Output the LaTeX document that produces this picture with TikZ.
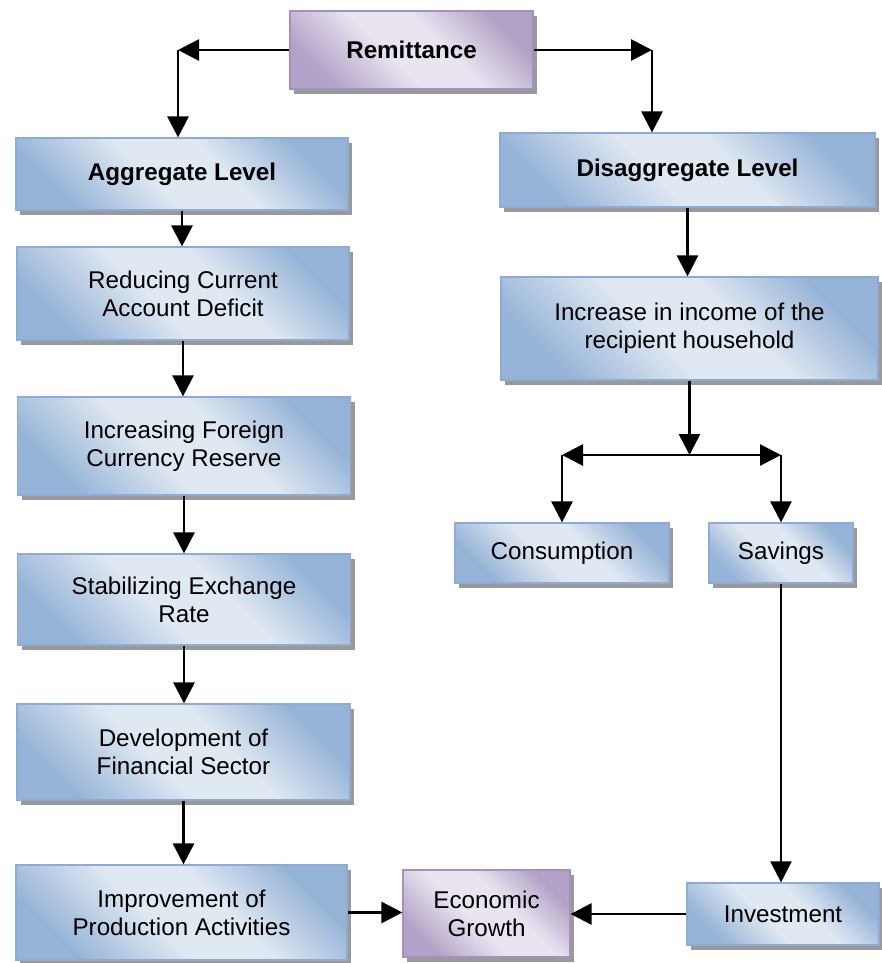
\documentclass[tikz,border=0pt]{standalone}
\usepackage{fontspec}
\setmainfont{Liberation Sans}
\usetikzlibrary{arrows.meta,shadows}
\definecolor{bdark}{HTML}{95B3D7}
\definecolor{blight}{HTML}{E0E8F2}
\definecolor{bline}{HTML}{8EAAD6}
\definecolor{pdark}{HTML}{B3A2C7}
\definecolor{plight}{HTML}{E9E4F0}
\definecolor{pline}{HTML}{A591BF}
\pgfdeclarehorizontalshading{blueglow}{100bp}{color(0bp)=(bdark); color(25bp)=(bdark); color(44bp)=(blight); color(58bp)=(blight); color(75bp)=(bdark); color(100bp)=(bdark)}
\pgfdeclarehorizontalshading{purpleglow}{100bp}{color(0bp)=(pdark); color(25bp)=(pdark); color(44bp)=(plight); color(58bp)=(plight); color(75bp)=(pdark); color(100bp)=(pdark)}
\tikzset{
  bbox/.style={draw=bline, line width=0.6pt, shade, shading=blueglow, shading angle=45,
    general shadow={fill=black!40, draw=none, shadow xshift=2pt, shadow yshift=-2.5pt},
    align=center, font=\fontsize{12.1}{14}\selectfont, inner sep=0pt, text=black},
  pbox/.style={bbox, draw=pline, shading=purpleglow},
  sz/.style 2 args={minimum width=#1*0.5pt, minimum height=#2*0.5pt},
  arr/.style={line width=1.4pt, -{Triangle[length=10.5pt,width=10.5pt]}},
  ln/.style={line width=1.4pt}
}
\begin{document}
\begin{tikzpicture}[x=0.5pt,y=-0.5pt]
\useasboundingbox (0,0) rectangle (882,963);
% nodes
\node[pbox, sz={243}{78}] (rem) at (411.5,50) {\textbf{Remittance}};
\node[bbox, sz={332}{72}] (agg) at (182,174) {\textbf{Aggregate Level}};
\node[bbox, sz={332}{93}] (red) at (183,293.5) {Reducing Current\\Account Deficit};
\node[bbox, sz={333}{98}] (ifc) at (184,446) {Increasing Foreign\\Currency Reserve};
\node[bbox, sz={333}{91}] (ser) at (184,599.5) {Stabilizing Exchange\\Rate};
\node[bbox, sz={333}{96}] (dfs) at (183.5,752) {Development of\\Financial Sector};
\node[bbox, sz={331}{95}] (imp) at (181.5,912.5) {Improvement of\\Production Activities};
\node[bbox, sz={375}{74}] (dis) at (687.5,170) {\textbf{Disaggregate Level}};
\node[bbox, sz={377}{103}] (inc) at (689.5,328.5) {Increase in income of the\\recipient household};
\node[bbox, sz={214}{60}] (con) at (562,553) {Consumption};
\node[bbox, sz={144}{60}] (sav) at (781,553) {Savings};
\node[bbox, sz={192}{62}] (inv) at (783,914) {Investment};
\node[pbox, sz={167}{87}] (eg) at (486.5,913.5) {Economic\\Growth};
% helper coordinates
\coordinate (xL) at (178,0);
\coordinate (xR) at (652,0);
\coordinate (cL) at (rem.west -| xL);
\coordinate (cR) at (rem.east -| xR);
\coordinate (yB) at (0,455);
\coordinate (jn) at (inc.south |- yB);
\coordinate (bL) at (con.north |- yB);
\coordinate (bR) at (sav.north |- yB);
% connectors
\draw[arr] (rem.west) -- (cL);
\draw[arr] (cL) -- (cL |- agg.north);
\draw[arr] (rem.east) -- (cR);
\draw[arr] (cR) -- (cR |- dis.north);
\draw[arr] (agg.south) -- (agg.south |- red.north);
\draw[arr] (red.south) -- (red.south |- ifc.north);
\draw[arr] (ifc.south) -- (ifc.south |- ser.north);
\draw[arr] (ser.south) -- (ser.south |- dfs.north);
\draw[arr] (dfs.south) -- (dfs.south |- imp.north);
\draw[arr] (dis.south) -- (dis.south |- inc.north);
\draw[arr] (inc.south) -- (jn);
\draw[arr] (jn) -- (bL);
\draw[arr] (jn) -- (bR);
\draw[arr] (bL) -- (con.north);
\draw[arr] (bR) -- (sav.north);
\draw[arr, line width=1.1pt] (sav.south) -- (sav.south |- inv.north);
\draw[arr] (inv.west) -- (inv.west -| eg.east);
\draw[arr] (imp.east) -- (imp.east -| eg.west);
\end{tikzpicture}
\end{document}
